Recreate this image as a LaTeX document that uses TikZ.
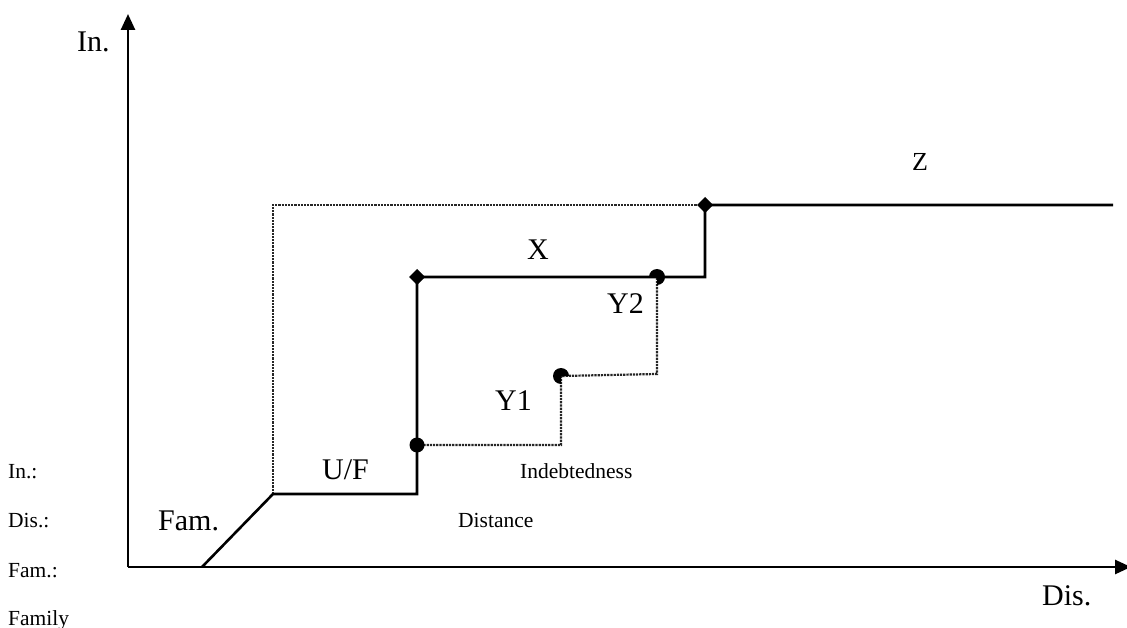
\documentclass[tikz,border=0pt]{standalone}
\usepackage{fontspec}
\setmainfont{Liberation Serif}
\usetikzlibrary{arrows.meta}
\begin{document}
\begin{tikzpicture}[x=1pt,y=-1pt,
  axis/.style={line width=2.6pt,-{Triangle[length=16pt,width=14pt]}},
  solidline/.style={line width=2.6pt,line join=miter},
  dotline/.style={line width=2.2pt,densely dotted,draw=black!85},
  big/.style={anchor=base west,inner sep=0pt,font=\fontsize{30}{32}\selectfont},
  small/.style={anchor=base west,inner sep=0pt,font=\fontsize{21.5}{23}\selectfont},
]
\useasboundingbox (0,0) rectangle (1127,628);
% coordinates
\coordinate (O) at (128,567);
\coordinate (Ytop) at (128,14);
\coordinate (Xend) at (1131,567);
\coordinate (F0) at (202,567);
\coordinate (F1) at (273,494);
\coordinate (U1) at (417,494);
\coordinate (B) at (417,445);
\coordinate (Xd) at (417,277);
\coordinate (Y2) at (657,277);
\coordinate (S1) at (705,277);
\coordinate (Zd) at (705,205);
\coordinate (Zend) at (1113,205);
\coordinate (R1) at (273,205);
\coordinate (Y1a) at (561,445);
\coordinate (Y1) at (561,376);
\coordinate (Y2a) at (657,374);
% axes
\draw[axis] (O) -- (Ytop);
\draw[axis] (O) -- (Xend);
% dotted
\draw[dotline] (F1) -- (R1) -- (Zd);
\draw[dotline] (B) -- (Y1a) -- (Y1) -- (Y2a) -- (Y2);
% solid
\draw[solidline] (F0) -- (F1) -- (U1) -- (Xd) -- (Y2) -- (S1) -- (Zd) -- (Zend);
% markers
\fill (Xd) ++(-8,0) -- ++(8,-8) -- ++(8,8) -- ++(-8,8) -- cycle;
\fill (Zd) ++(-8,0) -- ++(8,-8) -- ++(8,8) -- ++(-8,8) -- cycle;
\fill (B) circle (7.5);
\fill (Y1) -- +(90:8) arc[start angle=90,end angle=360,radius=8] -- cycle;
\fill (Y2) -- +(180:8) arc[start angle=180,end angle=450,radius=8] -- cycle;
% labels
\node[big] (lIn) at (77,52) {In.};
\node[big] (lDis) at (1042,605) {Dis.};
\node[big] (lFam) at (158,530) {Fam.};
\node[big] (lUF) at (322,479) {U/F};
\node[big,font=\fontsize{26}{28}\selectfont] (lZ) at (912,171) {Z};
\node[big] (lX) at (527,260) {X};
\node[big] (lY2) at (607,313) {Y2};
\node[big] (lY1) at (495,410) {Y1};
\node[small] (lInd) at (520,478) {Indebtedness};
\node[small] (lDist) at (458,527) {Distance};
\node[small] (k1) at (8,478) {In.:};
\node[small] (k2) at (8,527) {Dis.:};
\node[small] (k3) at (8,577) {Fam.:};
\node[small] (k4) at (8,625) {Family};
\end{tikzpicture}
\end{document}
